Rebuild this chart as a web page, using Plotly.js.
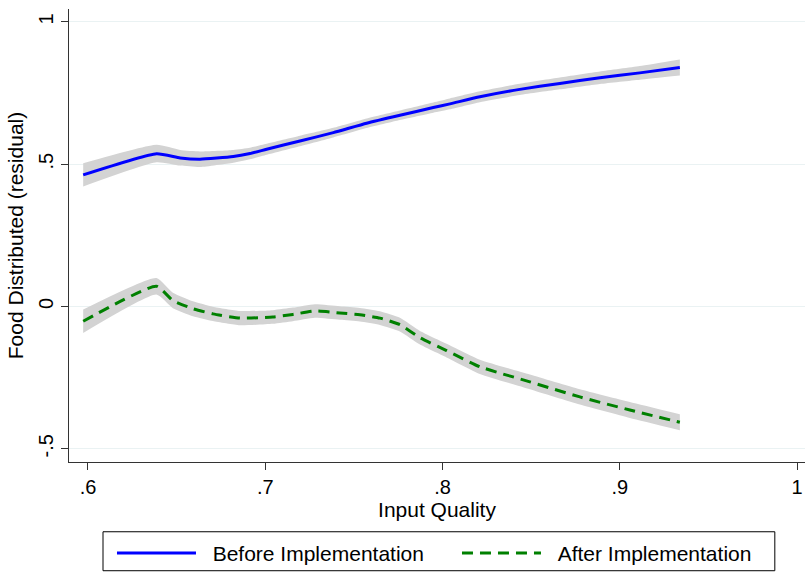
<!DOCTYPE html>
<html>
<head>
<meta charset="utf-8">
<script src="https://cdn.plot.ly/plotly-3.0.1.min.js"></script>
<style>html,body{margin:0;padding:0;background:#fff;}#chart{width:806px;height:574px;}</style>
</head>
<body>
<div id="chart"></div>
<script>
// Before Implementation (fitted line and confidence band)
const beforeX = [0.5973, 0.6387, 0.652, 0.6632, 0.682, 0.6914, 0.7008, 0.7196, 0.7384, 0.7572, 0.776, 0.7948, 0.8042, 0.8211, 0.8436, 0.8662, 0.8888, 0.9113, 0.9339];
const beforeY = [0.4625, 0.537, 0.522, 0.5175, 0.527, 0.5375, 0.5525, 0.5816, 0.611, 0.644, 0.672, 0.699, 0.712, 0.737, 0.763, 0.784, 0.804, 0.821, 0.840];
const beforeHi = [0.503, 0.568, 0.550, 0.545, 0.550, 0.558, 0.572, 0.600, 0.628, 0.661, 0.689, 0.717, 0.731, 0.756, 0.783, 0.805, 0.826, 0.845, 0.868];
const beforeLo = [0.422, 0.507, 0.495, 0.490, 0.505, 0.517, 0.533, 0.563, 0.594, 0.627, 0.655, 0.681, 0.693, 0.718, 0.743, 0.763, 0.782, 0.797, 0.812];

// After Implementation (fitted line and confidence band)
const afterX = [0.5973, 0.6386, 0.6479, 0.6592, 0.6705, 0.6857, 0.7043, 0.7156, 0.728, 0.7421, 0.7534, 0.7647, 0.776, 0.7873, 0.8023, 0.8211, 0.8493, 0.8775, 0.9057, 0.9339];
const afterY = [-0.052, 0.071, 0.021, -0.008, -0.026, -0.041, -0.037, -0.028, -0.016, -0.023, -0.029, -0.041, -0.064, -0.110, -0.155, -0.212, -0.265, -0.318, -0.364, -0.407];
const afterHi = [-0.011, 0.100, 0.048, 0.018, -0.001, -0.016, -0.013, -0.004, 0.008, 0.001, -0.005, -0.017, -0.040, -0.086, -0.131, -0.187, -0.239, -0.291, -0.336, -0.379];
const afterLo = [-0.093, 0.042, -0.006, -0.034, -0.051, -0.066, -0.061, -0.052, -0.040, -0.047, -0.053, -0.065, -0.088, -0.134, -0.179, -0.237, -0.291, -0.345, -0.392, -0.435];

const seriesNames = ['Before Implementation', 'After Implementation'];
const xTicks = [0.6, 0.7, 0.8, 0.9, 1];
const xTickText = ['.6', '.7', '.8', '.9', '1'];
const yTicks = [-0.5, 0, 0.5, 1];
const yTickText = ['-.5', '0', '.5', '1'];

const FONT = 'Liberation Sans, Arial, Helvetica, sans-serif';
const BAND = '#d3d3d3';
const SHAPE = {shape: 'spline', smoothing: 0.5};

function band(x, lo, hi) {
  return [
    {x: x, y: lo, type: 'scatter', mode: 'lines', line: Object.assign({width: 0, color: BAND}, SHAPE), showlegend: false, hoverinfo: 'skip'},
    {x: x, y: hi, type: 'scatter', mode: 'lines', line: Object.assign({width: 0, color: BAND}, SHAPE), fill: 'tonexty', fillcolor: BAND, showlegend: false, hoverinfo: 'skip'}
  ];
}

const data = [
  ...band(beforeX, beforeLo, beforeHi),
  ...band(afterX, afterLo, afterHi),
  {x: beforeX, y: beforeY, type: 'scatter', mode: 'lines', name: '\u00a0\u00a0' + seriesNames[0],
   line: Object.assign({color: '#0000ff', width: 3}, SHAPE)},
  {x: afterX, y: afterY, type: 'scatter', mode: 'lines', name: '\u00a0\u00a0' + seriesNames[1],
   line: Object.assign({color: '#008000', width: 3, dash: '11px,7px'}, SHAPE)}
];

const layout = {
  width: 806, height: 574,
  margin: {l: 69, r: 1, t: 9, b: 111},
  paper_bgcolor: '#ffffff', plot_bgcolor: '#ffffff',
  font: {family: FONT, size: 20, color: '#000'},
  showlegend: true,
  legend: {
    orientation: 'h', x: 0.0584, xanchor: 'left', y: -0.154, yanchor: 'top',
    borderwidth: 0, bgcolor: 'rgba(0,0,0,0)',
    font: {family: FONT, size: 21, color: '#000'},
    itemwidth: 79, entrywidth: 251, traceorder: 'normal'
  },
  shapes: [{
    type: 'rect', xref: 'paper', yref: 'paper',
    x0: 0.0462, x1: 0.959, y0: -0.240, y1: -0.154,
    line: {color: '#000', width: 1}, fillcolor: 'rgba(0,0,0,0)', layer: 'above'
  }],
  xaxis: {
    range: [0.5893, 1.0045], tickmode: 'array', tickvals: xTicks, ticktext: xTickText,
    ticks: 'outside', ticklen: 7, tickcolor: '#333', tickwidth: 1,
    showline: true, linecolor: '#333', linewidth: 1, showgrid: false, zeroline: false,
    tickfont: {family: FONT, size: 20, color: '#000'},
    title: {text: 'Input Quality', font: {family: FONT, size: 21, color: '#000'}, standoff: 5}
  },
  yaxis: {
    range: [-0.5467, 1.0455], tickmode: 'array', tickvals: yTicks, ticktext: yTickText,
    ticks: 'outside', ticklen: 7, tickcolor: '#333', tickwidth: 1, tickangle: -90,
    showline: true, linecolor: '#333', linewidth: 1, showgrid: true, gridcolor: '#eaf2f3', gridwidth: 1,
    zeroline: false,
    tickfont: {family: FONT, size: 20, color: '#000'},
    title: {text: 'Food Distributed (residual)', font: {family: FONT, size: 21, color: '#000'}, standoff: 5}
  }
};

Plotly.newPlot('chart', data, layout, {displayModeBar: false, staticPlot: true});
</script>
</body>
</html>
